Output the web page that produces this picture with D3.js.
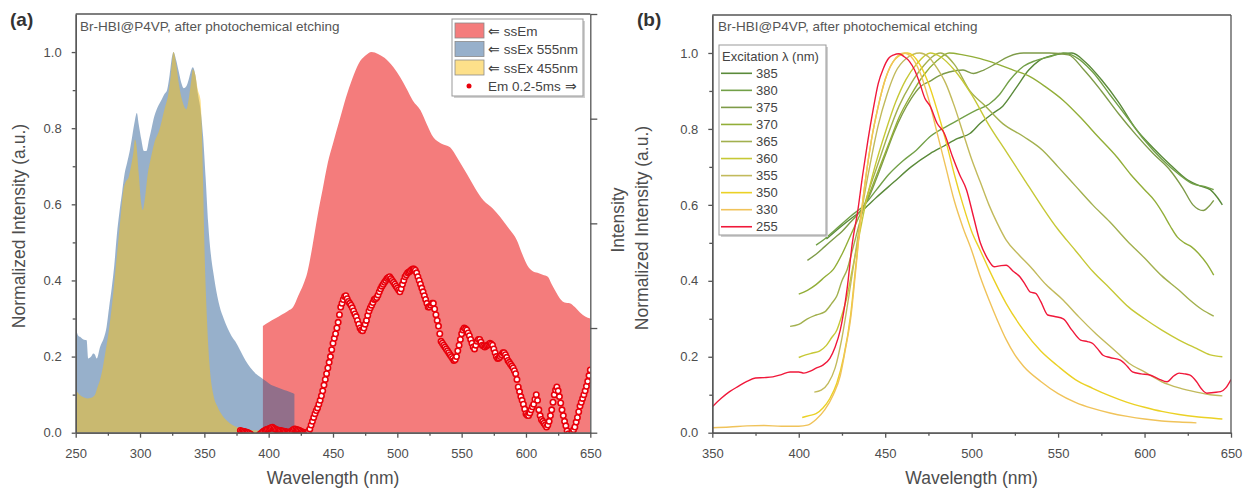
<!DOCTYPE html>
<html lang="en">
<head>
<meta charset="UTF-8">
<title>Br-HBI@P4VP spectra</title>
<style>
  body { margin: 0; background: #fff; }
  svg { font-family: "Liberation Sans", Arial, sans-serif; }
  .axis path, .axis line { stroke: #555; stroke-width: 1.3; }
  .axis text { fill: #4d4d4d; font-size: 13px; font-family: "Liberation Sans", Arial, sans-serif; }
  .lbl { fill: #4d4d4d; font-size: 17.5px; }
  .note { fill: #555; font-size: 13.5px; }
  .tag { fill: #333; font-size: 19px; font-weight: bold; }
  .leg text { fill: #444; }
</style>
<script src="https://d3js.org/d3.v7.min.js"></script>
</head>
<body>
<div id="chart"></div>
<script>
// ---------- panel (a) data ----------
const ssEm = [[395.5,0.28],[400,0.29],[405,0.30],[410,0.31],[415,0.32],[419,0.33],[423,0.36],[427,0.39],[430,0.42],[434,0.49],[438,0.57],[442,0.64],[446,0.71],[450,0.76],[455,0.82],[460,0.88],[465,0.93],[470,0.97],[475,0.99],[480,1.0],[485,0.995],[490,0.985],[497,0.96],[502,0.935],[507,0.905],[512,0.873],[518,0.847],[523,0.81],[528,0.776],[534,0.76],[541,0.75],[547,0.72],[554,0.68],[560,0.645],[567,0.61],[574,0.59],[580,0.567],[587,0.535],[593,0.505],[597,0.47],[601,0.44],[605,0.425],[609,0.42],[613,0.415],[617,0.41],[620,0.39],[624,0.366],[627,0.35],[630,0.342],[634,0.34],[638,0.33],[642,0.316],[646,0.305],[650,0.30]];

const ssEx555 = [[250,0.275],[252,0.255],[253.4,0.252],[256,0.245],[258.5,0.243],[259.8,0.195],[262,0.2],[263.7,0.208],[265,0.205],[266.3,0.195],[269,0.226],[272,0.25],[274,0.278],[276,0.33],[278,0.38],[280,0.44],[282,0.52],[284,0.58],[286,0.63],[288,0.68],[290,0.71],[292,0.74],[294,0.78],[296,0.82],[297.5,0.84],[299,0.81],[301,0.77],[303,0.74],[305,0.74],[307,0.77],[309,0.8],[311,0.83],[313,0.85],[316,0.87],[319,0.89],[321,0.9],[323,0.94],[325,0.99],[326,1.0],[328,0.98],[330,0.95],[332,0.92],[334,0.905],[336,0.91],[338,0.93],[340,0.955],[341,0.96],[343,0.94],[345,0.89],[347,0.85],[349,0.78],[351,0.67],[353,0.55],[355,0.47],[357,0.42],[360,0.36],[362,0.33],[365,0.3],[368,0.275],[371,0.255],[374,0.24],[378,0.215],[382,0.19],[386,0.17],[390,0.155],[394,0.145],[398,0.135],[402,0.125],[406,0.12],[410,0.115],[414,0.11],[418,0.105],[420,0.102]];

const ssEx455 = [[250,0.112],[253,0.1],[256,0.093],[259,0.09],[262,0.092],[265,0.1],[267,0.12],[269,0.14],[271,0.17],[273,0.21],[275,0.25],[277,0.3],[279,0.36],[281,0.43],[283,0.5],[285,0.57],[287,0.635],[289,0.66],[291,0.67],[293,0.7],[295,0.74],[296,0.77],[297,0.76],[299,0.68],[301,0.6],[302,0.585],[304,0.62],[306,0.68],[308,0.715],[311,0.76],[315,0.795],[319,0.85],[322,0.89],[324,0.94],[326,1.0],[328,0.97],[330,0.92],[333,0.87],[336,0.85],[338,0.88],[340,0.93],[341,0.955],[343,0.94],[345,0.9],[347,0.875],[348,0.8],[349,0.66],[350,0.5],[352,0.3],[354,0.18],[357,0.1],[360,0.07],[364,0.045],[368,0.03],[375,0.015],[385,0.008],[395,0.005],[405,0.0]];

const emDelayed = [[378,0.006],[379,0.004],[380,0.004],[381,0.003],[382,0.002],[383,0.001],[384,0.0],[385,-0.002],[386,-0.004],[387,-0.008],[388,-0.01],[389,-0.011],[390,-0.012],[391,-0.01],[392,-0.008],[393,-0.005],[394,-0.002],[395,0.001],[396,0.004],[397,0.006],[398,0.008],[399,0.009],[400,0.01],[401,0.012],[402,0.013],[403,0.014],[404,0.012],[405,0.01],[406,0.008],[407,0.007],[408,0.006],[409,0.006],[410,0.005],[411,0.004],[412,0.004],[413,0.003],[414,0.002],[415,0.001],[416,0.0],[417,0.003],[418,0.005],[419,0.008],[420,0.01],[421,0.009],[422,0.008],[423,0.007],[424,0.006],[425,0.004],[426,0.002],[427,0.001],[428,0.0],[429,-0.002],[430,0.0],[431,0.004],[432,0.01],[433,0.02],[434,0.03],[435,0.04],[436,0.05],[437,0.058],[438,0.065],[439,0.075],[440,0.085],[441,0.097],[442,0.11],[443,0.125],[444,0.14],[445,0.155],[446,0.17],[447,0.185],[448,0.2],[449,0.218],[450,0.235],[451,0.248],[452,0.26],[453,0.275],[454,0.29],[455,0.31],[456,0.33],[457,0.34],[458,0.35],[459,0.358],[460,0.36],[461,0.352],[462,0.345],[463,0.34],[464,0.335],[465,0.328],[466,0.32],[467,0.312],[468,0.305],[469,0.295],[470,0.285],[471,0.275],[472,0.27],[473,0.268],[474,0.275],[475,0.285],[476,0.295],[477,0.308],[478,0.32],[479,0.328],[480,0.335],[481,0.342],[482,0.35],[483,0.352],[484,0.355],[485,0.362],[486,0.37],[487,0.378],[488,0.385],[489,0.39],[490,0.395],[491,0.4],[492,0.405],[493,0.408],[494,0.41],[495,0.405],[496,0.4],[497,0.395],[498,0.39],[499,0.385],[500,0.38],[501,0.375],[502,0.37],[503,0.378],[504,0.39],[505,0.4],[506,0.41],[507,0.415],[508,0.42],[509,0.422],[510,0.425],[511,0.428],[512,0.43],[513,0.43],[514,0.427],[515,0.42],[516,0.41],[517,0.4],[518,0.39],[519,0.38],[520,0.37],[521,0.36],[522,0.35],[523,0.34],[524,0.33],[525,0.33],[526,0.335],[527,0.34],[528,0.34],[529,0.325],[530,0.31],[531,0.295],[532,0.28],[533,0.26],[534,0.24],[535,0.235],[536,0.23],[537,0.225],[538,0.22],[539,0.215],[540,0.21],[541,0.205],[542,0.2],[543,0.195],[544,0.19],[545,0.192],[546,0.2],[547,0.215],[548,0.23],[549,0.245],[550,0.26],[551,0.27],[552,0.275],[553,0.273],[554,0.27],[555,0.262],[556,0.255],[557,0.245],[558,0.235],[559,0.225],[560,0.22],[561,0.23],[562,0.24],[563,0.245],[564,0.245],[565,0.238],[566,0.23],[567,0.228],[568,0.225],[569,0.228],[570,0.23],[571,0.232],[572,0.235],[573,0.233],[574,0.23],[575,0.22],[576,0.21],[577,0.2],[578,0.195],[579,0.196],[580,0.2],[581,0.205],[582,0.21],[583,0.21],[584,0.205],[585,0.198],[586,0.19],[587,0.185],[588,0.18],[589,0.175],[590,0.17],[591,0.163],[592,0.155],[593,0.14],[594,0.12],[595,0.108],[596,0.095],[597,0.085],[598,0.075],[599,0.062],[600,0.05],[601,0.046],[602,0.045],[603,0.052],[604,0.06],[605,0.068],[606,0.075],[607,0.088],[608,0.1],[609,0.085],[610,0.06],[611,0.045],[612,0.035],[613,0.03],[614,0.025],[615,0.02],[616,0.015],[617,0.02],[618,0.03],[619,0.045],[620,0.06],[621,0.08],[622,0.1],[623,0.112],[624,0.12],[625,0.11],[626,0.095],[627,0.078],[628,0.06],[629,0.045],[630,0.03],[631,0.018],[632,0.005],[633,-0.003],[634,-0.01],[635,-0.006],[636,0.0],[637,0.008],[638,0.015],[639,0.028],[640,0.04],[641,0.055],[642,0.07],[643,0.08],[644,0.09],[645,0.1],[646,0.11],[647,0.122],[648,0.135],[649,0.15],[650,0.165]];

const legendA = ["\u21D0 ssEm", "\u21D0 ssEx 555nm", "\u21D0 ssEx 455nm", "Em 0.2-5ms \u21D2"];

// ---------- panel (b) data ----------
const ex385 = [[416,0.51],[425,0.545],[432,0.57],[438,0.59],[445,0.62],[455,0.66],[465,0.7],[476,0.735],[484,0.755],[492,0.775],[499,0.788],[505,0.815],[512,0.84],[518,0.86],[526,0.91],[533,0.955],[539,0.98],[548,0.995],[558,1.0],[566,0.975],[575,0.93],[585,0.87],[595,0.8],[605,0.75],[615,0.705],[625,0.665],[632,0.65],[638,0.64],[642,0.62],[645,0.6]];
const ex380 = [[410,0.494],[415,0.51],[420,0.53],[425,0.55],[430,0.57],[438,0.6],[445,0.64],[452,0.68],[460,0.715],[468,0.744],[476,0.78],[489,0.815],[503,0.85],[510,0.865],[516,0.89],[522,0.928],[530,0.965],[537,0.98],[545,0.99],[553,1.0],[560,0.99],[570,0.95],[580,0.89],[590,0.83],[600,0.77],[610,0.72],[620,0.68],[628,0.655],[635,0.648],[640,0.64]];
const ex375 = [[405,0.454],[410,0.47],[415,0.49],[420,0.51],[425,0.53],[430,0.555],[435,0.58],[440,0.615],[445,0.67],[450,0.73],[455,0.79],[460,0.84],[465,0.88],[470,0.91],[476,0.926],[481,0.94],[487,0.95],[495,0.955],[501,0.946],[507,0.955],[514,0.972],[521,0.99],[530,1.0],[545,1.0],[556,0.995],[565,0.955],[575,0.9],[585,0.84],[595,0.785],[605,0.735],[615,0.69],[622,0.645],[628,0.6],[634,0.585],[637,0.595],[640,0.612]];
const ex370 = [[400,0.365],[405,0.375],[410,0.39],[415,0.41],[420,0.43],[425,0.47],[430,0.52],[435,0.57],[440,0.62],[446,0.69],[452,0.76],[458,0.83],[465,0.89],[472,0.94],[480,0.98],[487,1.0],[495,0.995],[505,0.985],[514,0.972],[524,0.955],[534,0.937],[543,0.91],[553,0.875],[563,0.83],[573,0.78],[584,0.726],[592,0.68],[600,0.64],[606,0.61],[611,0.575],[615,0.543],[619,0.515],[623,0.5],[627,0.49],[631,0.473],[636,0.445],[640,0.415]];
const ex365 = [[395,0.28],[400,0.285],[405,0.3],[410,0.31],[415,0.318],[419,0.34],[422,0.36],[425,0.4],[428,0.43],[431,0.48],[435,0.55],[440,0.63],[446,0.71],[452,0.79],[458,0.86],[465,0.92],[472,0.965],[482,1.0],[490,0.97],[499,0.9],[508,0.86],[518,0.814],[530,0.78],[541,0.744],[550,0.7],[560,0.65],[570,0.6],[580,0.555],[590,0.505],[600,0.46],[610,0.413],[620,0.375],[626,0.35],[633,0.325],[640,0.307]];
const ex360 = [[400,0.198],[404,0.205],[408,0.21],[412,0.215],[416,0.23],[419,0.25],[422,0.27],[425,0.31],[428,0.36],[431,0.43],[435,0.52],[439,0.61],[444,0.7],[450,0.79],[456,0.87],[462,0.93],[468,0.97],[476,1.0],[482,0.99],[490,0.955],[500,0.89],[510,0.81],[520,0.74],[530,0.67],[540,0.6],[550,0.535],[555,0.507],[560,0.48],[570,0.425],[580,0.38],[591,0.33],[600,0.3],[610,0.27],[620,0.244],[630,0.222],[638,0.205],[645,0.2]];
const ex355 = [[409,0.107],[413,0.112],[417,0.13],[421,0.17],[425,0.25],[429,0.36],[433,0.48],[437,0.6],[441,0.7],[446,0.81],[451,0.89],[456,0.95],[462,0.985],[470,1.0],[475,0.99],[480,0.96],[485,0.92],[490,0.86],[495,0.79],[500,0.72],[505,0.66],[510,0.6],[515,0.55],[520,0.507],[527,0.47],[534,0.437],[543,0.39],[553,0.349],[562,0.305],[572,0.26],[582,0.22],[591,0.183],[600,0.16],[610,0.134],[620,0.118],[630,0.107],[638,0.1],[645,0.097]];
const ex350 = [[402,0.04],[406,0.045],[410,0.05],[414,0.065],[418,0.09],[422,0.13],[426,0.2],[430,0.31],[433,0.44],[436,0.57],[439,0.68],[442,0.77],[446,0.86],[450,0.93],[456,0.985],[463,1.0],[470,0.97],[475,0.92],[480,0.85],[485,0.77],[490,0.68],[495,0.6],[500,0.53],[505,0.48],[510,0.43],[520,0.34],[530,0.27],[540,0.215],[550,0.175],[560,0.14],[570,0.117],[580,0.097],[590,0.08],[600,0.067],[610,0.056],[620,0.048],[630,0.042],[640,0.038],[645,0.036]];
const ex330 = [[350,0.013],[360,0.015],[370,0.018],[380,0.019],[390,0.017],[400,0.017],[405,0.02],[410,0.035],[415,0.06],[420,0.1],[424,0.15],[427,0.22],[430,0.3],[433,0.43],[436,0.57],[439,0.68],[442,0.77],[446,0.86],[450,0.93],[455,0.98],[461,1.0],[465,0.99],[470,0.95],[475,0.88],[480,0.79],[485,0.7],[490,0.61],[495,0.54],[500,0.48],[505,0.41],[510,0.35],[515,0.295],[520,0.245],[525,0.205],[530,0.175],[540,0.135],[550,0.103],[560,0.08],[570,0.064],[580,0.052],[590,0.043],[600,0.036],[610,0.031],[620,0.028],[630,0.026]];
const ex255 = [[350,0.068],[355,0.09],[360,0.108],[365,0.122],[370,0.135],[375,0.144],[380,0.145],[385,0.147],[390,0.153],[395,0.16],[400,0.16],[403,0.157],[407,0.163],[410,0.17],[414,0.178],[418,0.196],[421,0.225],[424,0.27],[428,0.38],[431,0.5],[434,0.58],[437,0.68],[440,0.77],[443,0.85],[446,0.92],[449,0.96],[452,0.986],[455,0.995],[458,0.998],[461,0.99],[464,0.978],[467,0.955],[470,0.92],[473,0.88],[476,0.86],[480,0.815],[484,0.79],[489,0.726],[493,0.68],[497,0.64],[501,0.57],[505,0.5],[509,0.46],[513,0.437],[517,0.44],[520,0.441],[524,0.425],[528,0.41],[531,0.39],[534,0.37],[537,0.367],[540,0.345],[544,0.31],[548,0.306],[553,0.3],[558,0.27],[563,0.244],[567,0.24],[570,0.235],[573,0.22],[576,0.204],[580,0.198],[586,0.191],[590,0.175],[593,0.16],[598,0.155],[603,0.152],[608,0.142],[613,0.134],[617,0.15],[620,0.157],[623,0.155],[626,0.152],[630,0.135],[633,0.115],[636,0.104],[640,0.106],[644,0.108],[647,0.118],[650,0.14]];

const excLabels = ["385", "380", "375", "370", "365", "360", "355", "350", "330", "255"];
const excData = [ex385, ex380, ex375, ex370, ex365, ex360, ex355, ex350, ex330, ex255];
const excColors = ["#5a8a3a", "#72a048", "#7e9b48", "#92ae38", "#a2b04e", "#c6c836", "#c2ba5c", "#ebd125", "#f0c35a", "#f0183a"];

const yMajor = [0, 0.2, 0.4, 0.6, 0.8, 1.0];
const yMinor = [0.1, 0.3, 0.5, 0.7, 0.9];

// ---------- svg ----------
const svg = d3.select("#chart").append("svg")
    .attr("width", 1245)
    .attr("height", 490);

const boxA = {left: 75.7, right: 590.3, top: 14, bottom: 432.7};
const boxB = {left: 712.3, right: 1231, top: 15, bottom: 432.7};

const xA = d3.scaleLinear().domain([250, 650]).range([boxA.left, boxA.right]);
const yA = d3.scaleLinear().domain([0, 1.1]).range([boxA.bottom, boxA.top]);
const yAR = d3.scaleLinear().domain([0, 4]).range([boxA.bottom, boxA.top]);
const xB = d3.scaleLinear().domain([350, 650]).range([boxB.left, boxB.right]);
const yB = d3.scaleLinear().domain([0, 1.1]).range([boxB.bottom, boxB.top]);

const defs = svg.append("defs");
[["clipA", boxA], ["clipB", boxB]].forEach(([id, b]) => {
    defs.append("clipPath").attr("id", id).append("rect")
        .attr("x", b.left).attr("y", b.top)
        .attr("width", b.right - b.left).attr("height", b.bottom - b.top);
});

// ---------- panel (a) ----------
const plotA = svg.append("g").attr("clip-path", "url(#clipA)");

const areaA = d3.area()
    .x(d => xA(d[0]))
    .y0(yA(0))
    .y1(d => yA(d[1]))
    .curve(d3.curveMonotoneX);

plotA.append("path").datum(ssEm).attr("d", areaA).attr("fill", "#f47c7c");
plotA.append("path").datum(ssEx555).attr("d", areaA).attr("fill", "#2f6197").attr("fill-opacity", 0.5);
plotA.append("path").datum(ssEx455).attr("d", areaA).attr("fill", "#fbc115").attr("fill-opacity", 0.5);

plotA.selectAll(".em")
    .data(emDelayed)
    .enter().append("circle")
    .attr("class", "em")
    .attr("cx", d => xA(d[0]))
    .attr("cy", d => yA(d[1]))
    .attr("r", 2.7)
    .attr("fill", "#fff")
    .attr("stroke", "#e8000b")
    .attr("stroke-width", 1.6);

function drawAxes(x, y, box, xMajor, xMinor) {
    svg.append("g").attr("class", "axis")
        .attr("transform", "translate(0," + box.bottom + ")")
        .call(d3.axisBottom(x).tickValues(xMinor).tickSize(3).tickSizeOuter(0).tickFormat(""));
    svg.append("g").attr("class", "axis")
        .attr("transform", "translate(0," + box.bottom + ")")
        .call(d3.axisBottom(x).tickValues(xMajor).tickSize(5).tickSizeOuter(0).tickPadding(11).tickFormat(d3.format("d")));
    svg.append("g").attr("class", "axis")
        .attr("transform", "translate(" + box.left + ",0)")
        .call(d3.axisLeft(y).tickValues(yMinor).tickSize(3).tickSizeOuter(0).tickFormat(""));
    svg.append("g").attr("class", "axis")
        .attr("transform", "translate(" + box.left + ",0)")
        .call(d3.axisLeft(y).tickValues(yMajor).tickSize(4).tickSizeOuter(0).tickPadding(10).tickFormat(d3.format(".1f")));
    svg.append("line")
        .attr("x1", box.left).attr("x2", box.right)
        .attr("y1", box.top).attr("y2", box.top)
        .attr("stroke", "#555").attr("stroke-width", 1.3);
}

drawAxes(xA, yA, boxA, [250, 300, 350, 400, 450, 500, 550, 600, 650], [275, 325, 375, 425, 475, 525, 575, 625]);

svg.append("g").attr("class", "axis")
    .attr("transform", "translate(" + boxA.right + ",0)")
    .call(d3.axisRight(yAR).tickValues([0, 1, 2, 3, 4]).tickSize(7).tickSizeOuter(0).tickFormat(""));

svg.append("text").attr("class", "tag").attr("x", 10).attr("y", 26).text("(a)");
svg.append("text").attr("class", "note").attr("x", 80).attr("y", 31).text("Br-HBI@P4VP, after photochemical etching");
svg.append("text").attr("class", "lbl")
    .attr("transform", "translate(25,226) rotate(-90)")
    .attr("text-anchor", "middle").text("Normalized Intensity (a.u.)");
svg.append("text").attr("class", "lbl")
    .attr("transform", "translate(624,220) rotate(-90)")
    .attr("text-anchor", "middle").text("Intensity");
svg.append("text").attr("class", "lbl")
    .attr("x", (boxA.left + boxA.right) / 2).attr("y", 484)
    .attr("text-anchor", "middle").text("Wavelength (nm)");

// legend (a)
const legA = svg.append("g").attr("class", "leg");
legA.append("rect").attr("x", 454).attr("y", 21).attr("width", 131).attr("height", 77).attr("fill", "#d0d0d0");
legA.append("rect").attr("x", 452).attr("y", 19).attr("width", 131).attr("height", 77)
    .attr("fill", "#fff").attr("stroke", "#999").attr("stroke-width", 1);
const swatch = [["#f47c7c", 1], ["#2f6197", 0.5], ["#fbc115", 0.5]];
legendA.forEach((name, i) => {
    const cy = 30.5 + i * 18.5;
    if (i < 3) {
        legA.append("rect").attr("x", 455).attr("y", cy - 7.5).attr("width", 29).attr("height", 15)
            .attr("fill", swatch[i][0]).attr("fill-opacity", swatch[i][1])
            .attr("stroke", "#8a8a8a").attr("stroke-width", 0.8);
    } else {
        legA.append("circle").attr("cx", 469).attr("cy", cy).attr("r", 2.5).attr("fill", "#e8000b");
    }
    legA.append("text").attr("x", 488).attr("y", cy + 5).style("font-size", "13.5px").text(name);
});

// ---------- panel (b) ----------
const plotB = svg.append("g").attr("clip-path", "url(#clipB)");
const lineB = d3.line()
    .x(d => xB(d[0]))
    .y(d => yB(d[1]))
    .curve(d3.curveMonotoneX);

excData.forEach((series, i) => {
    plotB.append("path").datum(series)
        .attr("d", lineB)
        .attr("fill", "none")
        .attr("stroke", excColors[i])
        .attr("stroke-width", 1.4);
});

drawAxes(xB, yB, boxB, [350, 400, 450, 500, 550, 600, 650], [375, 425, 475, 525, 575, 625]);
svg.append("line")
    .attr("x1", boxB.right).attr("x2", boxB.right)
    .attr("y1", boxB.top).attr("y2", boxB.bottom)
    .attr("stroke", "#555").attr("stroke-width", 1.3);

svg.append("text").attr("class", "tag").attr("x", 637).attr("y", 26).text("(b)");
svg.append("text").attr("class", "note").attr("x", 718).attr("y", 31).text("Br-HBI@P4VP, after photochemical etching");
svg.append("text").attr("class", "lbl")
    .attr("transform", "translate(648,228) rotate(-90)")
    .attr("text-anchor", "middle").text("Normalized Intensity (a.u.)");
svg.append("text").attr("class", "lbl")
    .attr("x", (boxB.left + boxB.right) / 2).attr("y", 484)
    .attr("text-anchor", "middle").text("Wavelength (nm)");

// legend (b)
const legB = svg.append("g").attr("class", "leg");
legB.append("rect").attr("x", 721).attr("y", 47).attr("width", 107).attr("height", 190).attr("fill", "#cfcfcf");
legB.append("rect").attr("x", 719).attr("y", 45).attr("width", 107).attr("height", 190)
    .attr("fill", "#fff").attr("stroke", "#999").attr("stroke-width", 1);
legB.append("text").attr("x", 722).attr("y", 61).style("font-size", "13px").text("Excitation \u03BB (nm)");
excLabels.forEach((lab, i) => {
    const cy = 73.3 + i * 17.05;
    legB.append("line").attr("x1", 721).attr("x2", 752).attr("y1", cy).attr("y2", cy)
        .attr("stroke", excColors[i]).attr("stroke-width", 1.6);
    legB.append("text").attr("x", 756).attr("y", cy + 4.5).style("font-size", "13px").text(lab);
});
</script>
</body>
</html>
